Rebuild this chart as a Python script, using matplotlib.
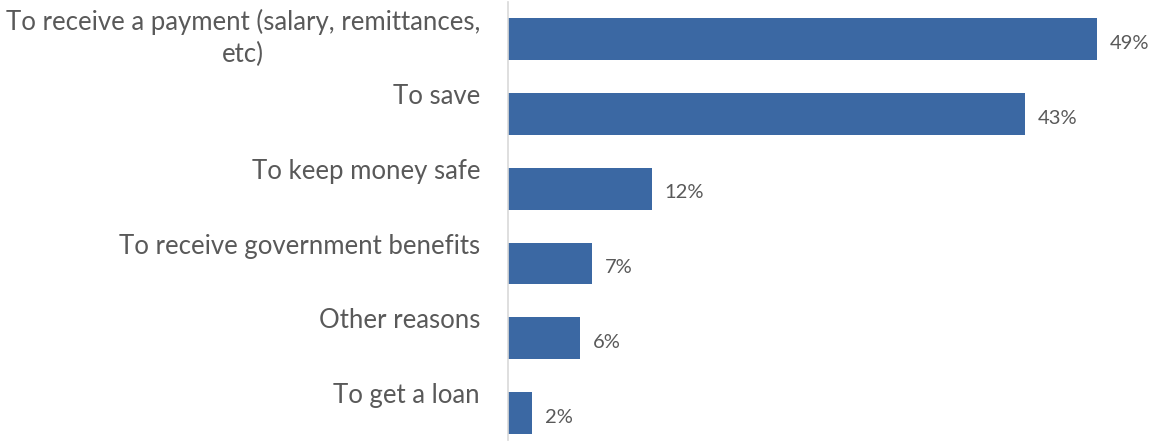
import matplotlib
matplotlib.use("Agg")
import matplotlib.pyplot as plt
import matplotlib.transforms as mtransforms

categories = [
    "To receive a payment (salary, remittances,\netc)",
    "To save",
    "To keep money safe",
    "To receive government benefits",
    "Other reasons",
    "To get a loan",
]
shares = [49, 43, 12, 7, 6, 2]
value_labels = ["49%", "43%", "12%", "7%", "6%", "2%"]

BAR_COL = "#3b68a3"
TEXT_COL = "#595959"
AXIS_COL = "#d9d9d9"

plt.rcParams["font.family"] = ["Lato", "DejaVu Sans"]

W, H = 1152, 446
fig = plt.figure(figsize=(W / 100, H / 100), dpi=100)
ax = fig.add_axes([508 / W, 6 / H, (W - 508) / W, 438 / H])

y = list(range(len(categories)))
ax.barh(y, shares, height=0.56, color=BAR_COL)

ax.set_xlim(0, 49 * 644 / 589)
ax.set_ylim(5.36, -0.495)

for s in ["top", "right", "bottom"]:
    ax.spines[s].set_visible(False)
ax.spines["left"].set_color(AXIS_COL)
ax.spines["left"].set_linewidth(1.2)
ax.set_xticks([])
ax.set_yticks([])

# category labels: right-aligned left of the axis, top anchored above bar centre
lab_tr = mtransforms.blended_transform_factory(ax.transAxes, ax.transData)
for yi, cat in zip(y, categories):
    ax.text(-28 / 644, yi - 0.40, cat, transform=lab_tr,
            ha="right", va="top", multialignment="center",
            fontsize=18.5, color=TEXT_COL, linespacing=1.35)

for yi, val, txt in zip(y, shares, value_labels):
    ax.annotate(txt, xy=(val, yi), xytext=(9, -3), textcoords="offset points",
                ha="left", va="center", fontsize=14.5, color=TEXT_COL)

fig.savefig("out.png", dpi=100)
